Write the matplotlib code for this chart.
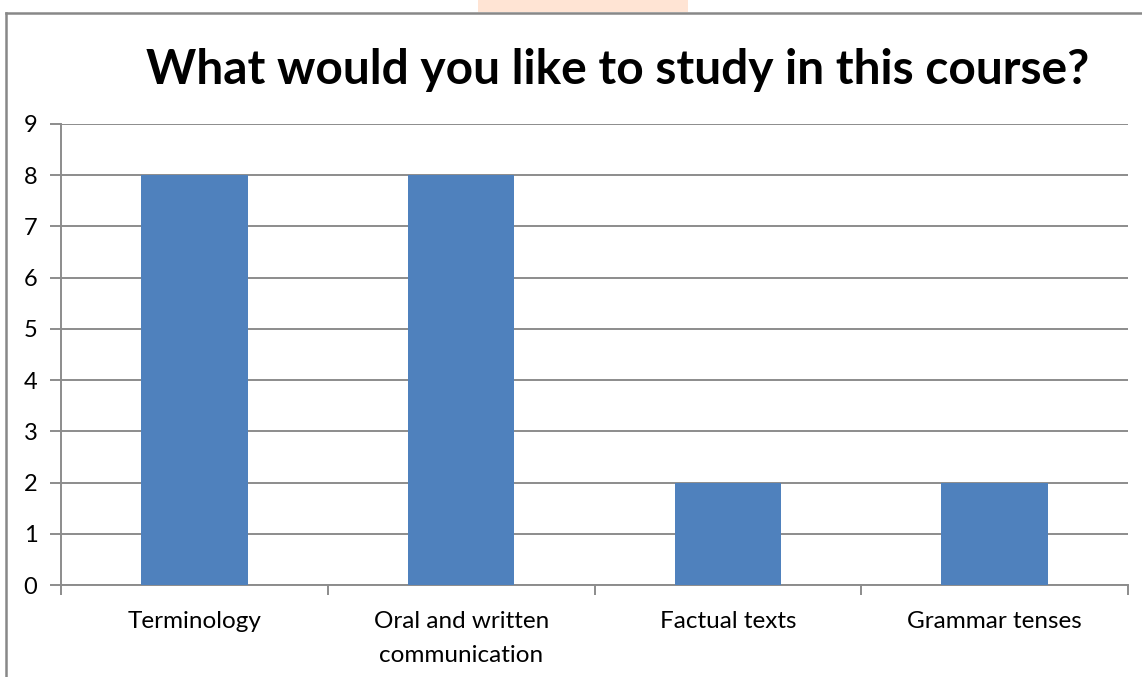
import matplotlib
matplotlib.use("Agg")
import matplotlib.pyplot as plt
from matplotlib.patches import Rectangle

categories = ["Terminology", "Oral and written\ncommunication", "Factual texts", "Grammar tenses"]
values = [8, 8, 2, 2]
yticks = list(range(0, 10))

W, H = 1142, 677
fig = plt.figure(figsize=(W / 100, H / 100), dpi=100)
plt.rcParams['font.family'] = ['Lato', 'DejaVu Sans']

# outer chart frame and the peach strip above it
fig.patches.append(Rectangle((478 / W, 1 - 12 / H), 210 / W, 12 / H, transform=fig.transFigure,
                             facecolor="#ffe4d4", edgecolor="none", zorder=0))
fig.add_artist(plt.Line2D([6 / W, 1.01], [1 - 12.5 / H, 1 - 12.5 / H], transform=fig.transFigure,
                          color="#888888", lw=1.8))
fig.add_artist(plt.Line2D([6 / W, 6 / W], [1 - 12.5 / H, -0.01], transform=fig.transFigure,
                          color="#888888", lw=1.8))

ax = fig.add_axes([61 / W, 1 - 585 / H, (1128 - 61) / W, (585 - 124) / H])
x = list(range(len(categories)))
ax.bar(x, values, width=0.4, color="#4f81bd", zorder=3)

ax.set_xlim(-0.5, len(categories) - 0.5)
ax.set_ylim(0, 9)
ax.set_yticks(yticks)
ax.set_yticklabels([str(v) for v in yticks], fontsize=17)
ax.yaxis.grid(True, color="#8c8c8c", lw=1.4, zorder=0)
ax.tick_params(axis="y", length=8, width=1.4, color="#8c8c8c", pad=9)

ax.set_xticks(x)
ax.set_xticklabels(categories, fontsize=17.5, linespacing=1.75)
ax.tick_params(axis="x", which="major", length=0, pad=19)
ax.set_xticks([i - 0.5 for i in range(len(categories) + 1)], minor=True)
ax.tick_params(axis="x", which="minor", length=7, width=1.4, color="#8c8c8c")

for s in ["top", "right"]:
    ax.spines[s].set_visible(False)
for s in ["left", "bottom"]:
    ax.spines[s].set_color("#8c8c8c")
    ax.spines[s].set_linewidth(1.4)

fig.text(618 / W, 1 - 70 / H, "What would you like to study in this course?", ha="center", va="center",
         fontsize=34.5, fontweight="bold")

fig.savefig("out.png", dpi=100)
